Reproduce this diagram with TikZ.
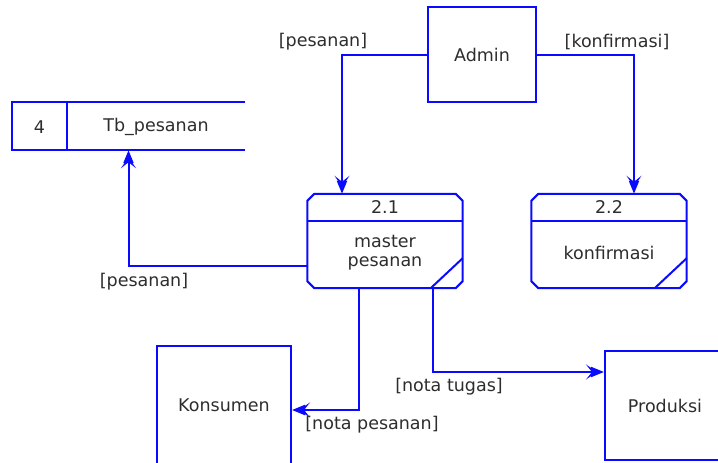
\documentclass[tikz,border=0pt]{standalone}
\usepackage{fontspec}
\setmainfont{DejaVu Sans}
\usetikzlibrary{arrows.meta}
\usetikzlibrary{positioning}

\definecolor{dfdblue}{RGB}{10,10,255}
\definecolor{dfdtext}{RGB}{45,45,45}

\tikzset{
  line/.style={draw=dfdblue, line width=2pt},
  flow/.style={line, -{Stealth[length=11pt,width=15pt,inset=6pt,sep=-6pt]Triangle[length=13pt,width=10pt]}},
  entity/.style={line, rectangle, inner sep=0pt},
  proc/.style={rectangle, inner sep=0pt, minimum width=155pt, minimum height=94pt},
  store/.style={rectangle, inner sep=0pt, minimum width=233pt, minimum height=48pt},
  lbl/.style={inner sep=1pt, text=dfdtext, align=center},
}

\begin{document}
\begin{tikzpicture}[x=1pt, y=-1pt, font=\fontsize{17.5}{19}\selectfont, text=dfdtext]
\useasboundingbox (0,0) rectangle (718,463);
\clip (0,0) rectangle (718,463);

% external entities
\node[entity, minimum width=108pt, minimum height=95pt] (admin) at (482,54.5) {Admin};
\node[entity, minimum width=134pt, minimum height=119pt] (konsumen) at (224,405.5) {Konsumen};
\node[entity, minimum width=120pt, minimum height=109pt] (produksi) at (665,405.5) {Produksi};

% processes 2.1 and 2.2
\node[proc] (p21) at (385,241) {};
\node[proc] (p22) at (609,241) {};
\foreach \p in {p21,p22} {
  \draw[line] ([xshift=7pt]\p.north west) -- ([xshift=-7pt]\p.north east)
    -- ([yshift=-7pt]\p.north east) -- ([yshift=7pt]\p.south east)
    -- ([xshift=-7pt]\p.south east) -- ([xshift=7pt]\p.south west)
    -- ([yshift=7pt]\p.south west) -- ([yshift=-7pt]\p.north west) -- cycle;
  \draw[line] ([yshift=-27pt]\p.north west) -- ([yshift=-27pt]\p.north east);
  \draw[line] ([yshift=30pt]\p.south east) -- ([xshift=-32pt]\p.south east);
}
\node[lbl] (p21-id) at ([yshift=-13pt]p21.north) {2.1};
\node[lbl] (p21-txt) at ([yshift=-12pt]p21.center) {master\\pesanan};
\node[lbl] (p22-id) at ([yshift=-13pt]p22.north) {2.2};
\node[lbl] (p22-txt) at ([yshift=-12pt]p22.center) {konfirmasi};

% data store 4
\node[store] (tb) at (128.5,126) {};
\draw[line] (tb.north east) -- (tb.north west) -- (tb.south west) -- (tb.south east);
\draw[line] ([xshift=55pt]tb.north west) -- ([xshift=55pt]tb.south west);
\node[lbl] (tb-id) at (39.5,127) {4};
\node[lbl] (tb-name) at (156,127) {Tb\_pesanan};

% data flows
\draw[flow] (admin.west) -| ([xshift=-43pt]p21.north);
\draw[flow] (admin.east) -| ([xshift=25pt]p22.north);
\draw[flow] ([yshift=-25pt]p21.west) -| (tb.south);
\draw[flow] ([xshift=-26pt]p21.south) |- ([yshift=-4.5pt]konsumen.east);
\draw[flow] ([xshift=48pt]p21.south) |- ([yshift=33.5pt]produksi.west);

% flow labels
\node[lbl] (f-pesanan) at (323,42) {[pesanan]};
\node[lbl] (f-konfirmasi) at (617,42) {[konfirmasi]};
\node[lbl] (f-simpan) at (144,282) {[pesanan]};
\node[lbl] (f-nota) at (372,425) {[nota pesanan]};
\node[lbl] (f-tugas) at (449,387) {[nota tugas]};
\end{tikzpicture}
\end{document}
